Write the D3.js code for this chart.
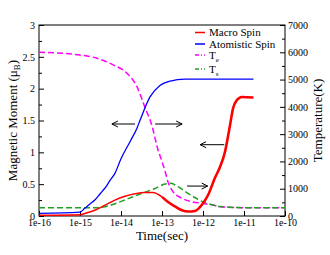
<!DOCTYPE html>
<html>
<head>
  <meta charset="utf-8">
  <style>
    body { margin: 0; background: #fff; }
    svg, svg text { font-family: "Liberation Serif", "DejaVu Serif", serif; }
    .axis text { font-size: 10px; fill: #000; font-family: "Liberation Serif", serif; }
    .axis path { display: none; }
    .axis line { stroke: #000; }
  </style>
</head>
<body>
  <script src="https://d3js.org/d3.v7.min.js"></script>
  <script>
    // tick labels
    var timeTicks = [1e-16, 1e-15, 1e-14, 1e-13, 1e-12, 1e-11, 1e-10];
    var momentTicks = [0, 0.5, 1, 1.5, 2, 2.5, 3];
    var tempTicks = [0, 1000, 2000, 3000, 4000, 5000, 6000, 7000];

    // Macro spin (muB)
    var macroTime = [1e-16, 1e-15, 1.3e-15, 2.3e-15, 4.1e-15, 7.1e-15, 1.25e-14, 2.2e-14, 3.85e-14, 6e-14,
                     1e-13, 1.4e-13, 2.07e-13, 3.07e-13, 4.3e-13, 6.4e-13, 9.5e-13, 1.33e-12, 1.96e-12,
                     2.6e-12, 3.44e-12, 4.07e-12, 4.8e-12, 5.4e-12, 6.7e-12, 8.9e-12, 1.7e-11];
    var macroMoment = [0.01, 0.02, 0.04, 0.09, 0.17, 0.25, 0.31, 0.35, 0.37, 0.37,
                       0.3, 0.22, 0.15, 0.09, 0.07, 0.08, 0.18, 0.33, 0.6,
                       0.77, 1.01, 1.25, 1.51, 1.69, 1.82, 1.87, 1.86];

    // Atomistic spin (muB)
    var atomTime = [1e-16, 1e-15, 1.3e-15, 1.75e-15, 2.3e-15, 3.1e-15, 4.1e-15, 5.4e-15, 7.1e-15, 1e-14,
                    1.67e-14, 2.45e-14, 2.9e-14, 5.1e-14, 8.9e-14, 1.58e-13, 3.6e-13, 1.7e-11];
    var atomMoment = [0.04, 0.06, 0.12, 0.19, 0.25, 0.35, 0.44, 0.56, 0.67, 0.9,
                      1.17, 1.38, 1.5, 1.87, 2.05, 2.12, 2.15, 2.15];

    // Electron temperature Te (K)
    var teTime = [1e-16, 1e-15, 2.6e-15, 6.4e-15, 1.4e-14, 2.45e-14, 3.8e-14, 5.7e-14, 8e-14, 1e-13,
                  1.18e-13, 1.4e-13, 1.86e-13, 3.07e-13, 5.4e-13, 9.5e-13, 1.75e-12, 2.6e-12, 1e-11, 1e-10];
    var teTemp = [6000, 5900, 5780, 5540, 5230, 4740, 4000, 3300, 2420, 2000,
                  1650, 1250, 890, 650, 520, 465, 400, 340, 305, 300];

    // Spin temperature Ts (K)
    var tsTime = [1e-16, 2.3e-15, 4.1e-15, 7.1e-15, 1.25e-14, 3.25e-14, 6.75e-14, 1.18e-13, 1.66e-13,
                  2.45e-13, 4.3e-13, 7.55e-13, 1.12e-12, 1.75e-12, 2.6e-12, 1e-11, 1e-10];
    var tsTemp = [300, 300, 340, 450, 590, 830, 1010, 1170, 1200,
                  1075, 830, 610, 490, 400, 350, 305, 300];

    // annotation arrows: from time, to time (head), at moment level
    var arrowFrom = [2.2e-14, 6.8e-14, 3.3e-12, 4.1e-13];
    var arrowTo = [6e-15, 3.1e-13, 8.5e-13, 1.3e-12];
    var arrowLevel = [1.445, 1.445, 1.12, 0.47];

    var legendNames = ["Macro Spin", "Atomistic Spin", "T", "T"];
    var legendSubs = ["", "", "e", "s"];

    var margin = {top: 25, right: 45, bottom: 39, left: 39},
        width = 330 - margin.left - margin.right,
        height = 255 - margin.top - margin.bottom;

    var x = d3.scaleLog().domain([1e-16, 1e-10]).range([0, width]),
        yL = d3.scaleLinear().domain([0, 3]).range([height, 0]),
        yR = d3.scaleLinear().domain([0, 7000]).range([height, 0]);

    var svg = d3.select("body").append("svg")
        .attr("width", 330)
        .attr("height", 255);

    var g = svg.append("g")
        .attr("transform", "translate(" + margin.left + "," + margin.top + ")");

    g.append("clipPath").attr("id", "clip")
      .append("rect").attr("width", width).attr("height", height);

    // minor ticks
    g.append("g").attr("class", "axis")
        .call(d3.axisLeft(yL).tickValues(d3.range(0.25, 3, 0.5)).tickSize(-3).tickFormat(""));
    g.append("g").attr("class", "axis")
        .attr("transform", "translate(" + width + ",0)")
        .call(d3.axisRight(yR).tickValues(d3.range(500, 7000, 1000)).tickSize(-3).tickFormat(""));

    // major axes
    g.append("g").attr("class", "axis")
        .attr("transform", "translate(0," + height + ")")
        .call(d3.axisBottom(x).tickValues(timeTicks).tickSizeInner(-5).tickSizeOuter(0).tickPadding(3)
          .tickFormat(function(d) { return "1e" + Math.round(Math.log10(d)); }));
    g.append("g").attr("class", "axis")
        .call(d3.axisLeft(yL).tickValues(momentTicks).tickSizeInner(-5).tickSizeOuter(0).tickPadding(4)
          .tickFormat(d3.format("")));
    g.append("g").attr("class", "axis")
        .attr("transform", "translate(" + width + ",0)")
        .call(d3.axisRight(yR).tickValues(tempTicks).tickSizeInner(-5).tickSizeOuter(0).tickPadding(3)
          .tickFormat(d3.format("d")));

    g.append("rect")
        .attr("width", width).attr("height", height)
        .attr("fill", "none").attr("stroke", "#000").attr("stroke-width", 1);

    function series(ts, vs, y) {
      return ts.map(function(t, i) { return [x(t), y(vs[i])]; });
    }
    var line = d3.line().curve(d3.curveMonotoneX);
    var lines = g.append("g").attr("clip-path", "url(#clip)");

    lines.append("path")
        .attr("d", line(series(teTime, teTemp, yR)))
        .attr("fill", "none").attr("stroke", "#ff00ff").attr("stroke-width", 1.5)
        .attr("stroke-dasharray", "6,3");
    lines.append("path")
        .attr("d", line(series(tsTime, tsTemp, yR)))
        .attr("fill", "none").attr("stroke", "#22a022").attr("stroke-width", 1.5)
        .attr("stroke-dasharray", "6,3");
    lines.append("path")
        .attr("d", line(series(atomTime, atomMoment, yL)))
        .attr("fill", "none").attr("stroke", "#0000ff").attr("stroke-width", 1.3);

    var macroPts = series(macroTime, macroMoment, yL);
    var split = macroTime.indexOf(1e-13);
    lines.append("path")
        .attr("d", line(macroPts.slice(0, split + 1)))
        .attr("fill", "none").attr("stroke", "#ff0000").attr("stroke-width", 1.5);
    lines.append("path")
        .attr("d", line(macroPts.slice(split)))
        .attr("fill", "none").attr("stroke", "#ff0000").attr("stroke-width", 2.6);

    // arrows
    arrowFrom.forEach(function(t0, i) {
      var x0 = x(t0), x1 = x(arrowTo[i]), yy = yL(arrowLevel[i]);
      var dir = x1 > x0 ? -1 : 1;
      g.append("line")
          .attr("x1", x0).attr("x2", x1).attr("y1", yy).attr("y2", yy)
          .attr("stroke", "#000").attr("stroke-width", 1);
      g.append("path")
          .attr("d", "M" + (x1 + dir * 6) + "," + (yy - 3) + "L" + x1 + "," + yy + "L" + (x1 + dir * 6) + "," + (yy + 3))
          .attr("fill", "none").attr("stroke", "#000").attr("stroke-width", 1);
    });

    // legend
    var legColors = ["#ff0000", "#0000ff", "#ff00ff", "#22a022"];
    var legDash = [null, null, "4,2,1,2", "4,2,1,2"];
    var legBase = [11, 22.5, 33.5, 47.5];
    legendNames.forEach(function(name, i) {
      var yy = legBase[i];
      g.append("line")
          .attr("x1", 156).attr("x2", 166).attr("y1", yy - 3.5).attr("y2", yy - 3.5)
          .attr("stroke", legColors[i]).attr("stroke-width", 1.5)
          .attr("stroke-dasharray", legDash[i]);
      var tx = g.append("text").attr("x", 170).attr("y", yy)
          .style("font-size", "11px").text(name);
      if (legendSubs[i]) {
        tx.append("tspan").attr("dy", 3).style("font-size", "7px").text(legendSubs[i]);
      }
    });

    // axis titles
    g.append("text")
        .attr("x", width / 2).attr("y", height + 24)
        .attr("text-anchor", "middle").style("font-size", "13px")
        .text("Time(sec)");

    var yt = svg.append("text")
        .attr("transform", "translate(17," + (margin.top + height / 2) + ") rotate(-90)")
        .attr("text-anchor", "middle").style("font-size", "13px")
        .text("Magnetic Moment (\u03bc");
    yt.append("tspan").attr("dy", 3).style("font-size", "9px").text("B");
    yt.append("tspan").attr("dy", -3).text(")");

    svg.append("text")
        .attr("transform", "translate(322," + (margin.top + height / 2) + ") rotate(-90)")
        .attr("text-anchor", "middle").style("font-size", "13px")
        .text("Temperature(K)");
  </script>
</body>
</html>
